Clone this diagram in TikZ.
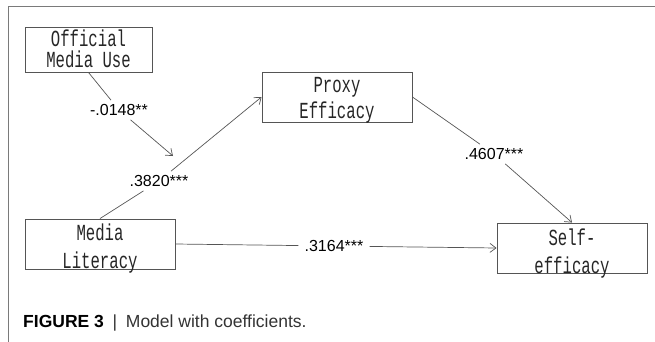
\documentclass[tikz,border=0pt]{standalone}
\usepackage{fontspec}
\setmainfont{Liberation Sans}
\newfontfamily\boxfont[FakeStretch=0.68]{Liberation Mono}
\usetikzlibrary{arrows.meta}

\definecolor{framegray}{HTML}{7A7A7A}
\definecolor{edgegray}{HTML}{555555}
\definecolor{captext}{HTML}{333333}

\begin{document}
\begin{tikzpicture}[x=1pt,y=-1pt,
  % boxes are placed at the baseline of their last line
  varbox/.style={draw=edgegray, line width=0.9pt, inner sep=0pt, align=center,
    anchor=base, minimum width=150pt, text=black!85},
  coef/.style={font=\fontsize{16}{18}\selectfont, inner xsep=6pt, inner ysep=4pt},
  link/.style={draw=edgegray, line width=0.7pt},
  arr/.style={link, -{Straight Barb[length=6pt,width=9pt]}}
]
\useasboundingbox (0,0) rectangle (655,342);

% frame rules
\draw[framegray, line width=1pt] (655,7) -- (8,7) -- (8,342);

% variables
\node[varbox, minimum width=127pt, text height=41pt, text depth=4pt,
      font=\boxfont\fontsize{23}{21}\selectfont] (omu) at (88.5,68) {Official\\Media Use};
\node[varbox, text height=46pt, text depth=4pt,
      font=\boxfont\fontsize{23}{25}\selectfont] (pe) at (337,118) {Proxy\\Efficacy};
\node[varbox, text height=49pt, text depth=1pt,
      font=\boxfont\fontsize{23}{28}\selectfont] (ml) at (100,268) {Media\\Literacy};
\node[varbox, text height=50pt, text depth=0pt,
      font=\boxfont\fontsize{23}{28}\selectfont] (se) at (572,273) {Self-\\efficacy};

% path coefficients
\node[coef] (c1) at (119,110) {-.0148**};
\node[coef] (c2) at (159,181) {.3820***};
\node[coef] (c3) at (494,154) {.4607***};
\node[coef] (c4) at (334,246) {.3164***};
\coordinate (tip) at (173,156);

% connectors
\draw[link] (omu.south) -- (c1);
\draw[arr] (c1) -- (tip);
\draw[link] (ml.north) -- (c2);
\draw[arr] (c2) -- (pe.west);
\draw[link] (pe.east) -- (c3);
\draw[arr] (c3) -- (se.north);
\draw[link] (ml.east) -- (c4);
\draw[arr] (c4) -- (se.west);

% caption
\node[anchor=base west, inner sep=0pt, text=captext, font=\fontsize{17.5}{20}\selectfont] (cap)
  at (23,327) {\textbf{\color{black}FIGURE 3}\hspace{0.5em}|\hspace{0.5em}Model with coefficients.};
\end{tikzpicture}
\end{document}
